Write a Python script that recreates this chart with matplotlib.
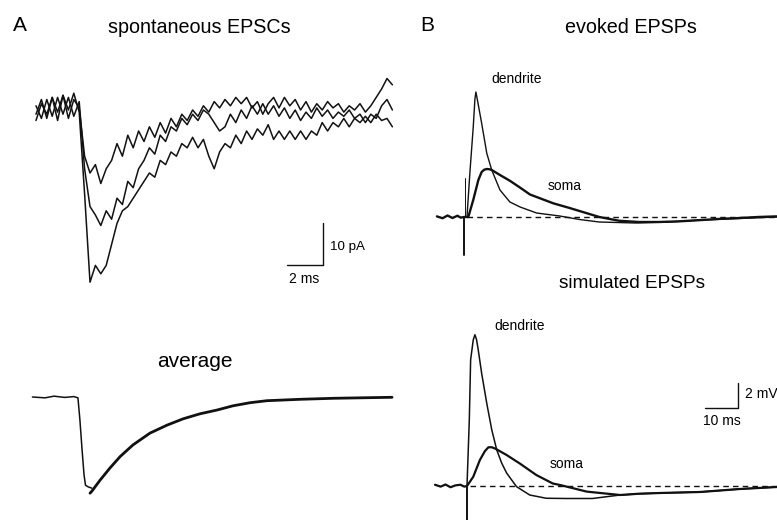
import numpy as np
import matplotlib
matplotlib.use("Agg")
import matplotlib.pyplot as plt

plt.rcParams["font.family"] = ["Liberation Sans", "DejaVu Sans"]
plt.rcParams["lines.solid_joinstyle"] = "round"
plt.rcParams["lines.solid_capstyle"] = "round"

### Data
# A: spontaneous EPSCs (pA), sampled every 0.3 ms
dt_a = 0.3
epsc_small = [-2.5, 1.5, -1, 3, -0.5, 3.5, -2, 2.5, 0.5, -11, -15, -13, -17.5, -14, -12, -8, -11,
              -6, -9, -5, -7.5, -4, -6.5, -3, -5.5, -2, -4, -1, -2.5, 0, -1.5, 1, -0.5, 2, 0.5,
              2.5, 1, 3, 1.5, 3, 0.5, 2, -1, 1.5, 3, 0.5, 3, 1, 2.5, 0, 2, -0.5, 1.5, 0, 2, 0.5,
              1.5, -0.5, 1, 0, 1.5, -0.5, 1, 3, 5, 7.5, 6]
epsc_mid = [1, -2, 2.5, -1.5, 3, -1, 3, -1.5, 2, -14, -23, -25, -27.5, -24, -26, -21, -22.5,
            -17, -18.5, -14, -12, -9, -10.5, -6, -7.5, -4, -5, -2, -3.5, -1, -2.5, 0, -1, -3, -5,
            -4, -1, -3, 0, -2, 1, -1, 1.5, -1, 1, -1.5, 0.5, -2, 0, -2.5, -0.5, -2, 0.5, -1.5,
            0, -2, -0.5, -1.5, 0, -2, -1, -3, -1, -2, 1, 2.5, 0]
epsc_big = [-1, 2.5, -2, 3, -2.5, 3.5, 0, 4, -0.5, -20, -41, -37, -39, -37, -32, -27, -24,
            -23, -21, -19, -17, -15, -16, -12, -13, -10, -11, -8, -9, -6.5, -9, -7, -11, -14,
            -10, -8, -9, -6, -8, -5, -7, -4.5, -6, -3.5, -7, -5, -7, -5, -7, -5, -7, -5, -6, -3,
            -5, -3, -4, -2, -4, -2, -3, -1.5, -3, -1, -2.5, -2, -4]

# A: average EPSC (ms, pA)
avg_rise_t = [-0.2, 0.5, 1.0, 1.6, 2.1, 2.33, 2.44, 2.56, 2.67, 2.75, 2.9, 3.1]
avg_rise_pa = [0, -0.2, 0.2, -0.1, 0.1, -0.2, -5.5, -12.6, -18.6, -21, -21.4, -21.7]
avg_decay_t = [3.0, 3.09, 3.56, 4.11, 4.67, 5.39, 6.33, 7.28, 8.17, 9.11, 10.06, 10.94, 11.89,
               12.83, 14.67, 16.5, 18.39, 19.78]
avg_decay_pa = [-22.9, -22.5, -19.8, -16.9, -14.2, -11.4, -8.6, -6.7, -5.2, -4.0, -3.1, -2.1,
                -1.36, -0.88, -0.55, -0.31, -0.17, -0.07]

# B: evoked EPSPs (ms, mV)
ev_dend_t = [0.9, 1.8, 2.8, 3.3, 3.6, 3.9, 5.35, 6.9, 8.4, 10.9, 13.9, 17, 22, 29, 35, 41, 52,
             62, 72, 87, 94.8]
ev_dend_mv = [0, 3.6, 7.2, 9.4, 10, 9.6, 7.5, 5.1, 3.76, 2.16, 1.2, 0.8, 0.32, 0.08, -0.2,
              -0.4, -0.48, -0.4, -0.24, -0.08, 0]
ev_soma_t = [-8.2, -6.5, -5, -3.5, -2, -1, 0, 1.3, 2.8, 4.35, 5.35, 6.1, 6.9, 7.7, 8.4, 10.9,
             13.9, 17, 20, 27, 32, 38, 41, 47, 53, 59, 65, 71.5, 77.6, 83.6, 89, 94.8]
ev_soma_mv = [0.05, -0.1, 0.12, -0.08, 0.1, -0.05, 0, 0, 1.36, 2.96, 3.6, 3.78, 3.84, 3.82,
              3.76, 3.36, 2.9, 2.35, 1.8, 1.1, 0.72, 0.24, 0, -0.3, -0.4, -0.4, -0.35, -0.25,
              -0.15, -0.08, 0, 0.05]
ev_artifact = (3.1, -3.05)

# B: simulated EPSPs (ms, mV)
sim_dend_t = [0, 0.7, 1.1, 1.9, 2.4, 2.9, 3.4, 4.45, 6, 7.5, 9, 10.5, 12, 15, 19, 24, 30, 38,
              45.5, 52, 58.5, 70.6, 82.7, 93.9]
sim_dend_mv = [0, 5.3, 10.1, 11.7, 12.1, 11.7, 10.9, 9.0, 6.6, 4.5, 2.9, 1.84, 1.04, -0.05,
               -0.72, -0.98, -1.0, -1.0, -0.75, -0.62, -0.56, -0.48, -0.24, -0.08]
sim_soma_t = [-9.7, -8, -6.5, -5, -3.5, -2, -0.8, 0, 1.9, 3.9, 5.45, 6.5, 7.5, 8.5, 12, 16, 21,
              26, 28.2, 36.3, 46.4, 52, 58.5, 70.6, 82.7, 93.9]
sim_soma_mv = [0.1, -0.05, 0.12, -0.1, 0.05, 0.1, -0.05, 0, 0.74, 2.08, 2.8, 3.1, 3.1, 3.0,
               2.48, 1.8, 0.88, 0.2, 0.08, -0.45, -0.72, -0.62, -0.56, -0.48, -0.24, -0.08]
sim_artifact = -3.0

### Layout helpers (pixel boxes of a 777x520 canvas)
W, H = 777, 520
fig = plt.figure(figsize=(W / 100, H / 100), dpi=100)


def make_axes(left, top, right, bottom, x0, sx, y0, sy):
    # x0/y0: pixel of data zero, sx/sy: pixels per data unit
    ax = fig.add_axes([left / W, 1 - bottom / H, (right - left) / W, (bottom - top) / H])
    ax.set_xlim((left - x0) / sx, (right - x0) / sx)
    ax.set_ylim((y0 - bottom) / sy, (y0 - top) / sy)
    ax.axis("off")
    return ax


def label(x, y, s, size, ha="center"):
    fig.text(x / W, 1 - y / H, s, fontsize=size, ha=ha, va="baseline")


k = "#111111"

# A top
axA = make_axes(0, 40, 420, 310, 36, 18, 110, 4.2)
t_a = np.arange(len(epsc_big)) * dt_a
for tr in (epsc_small, epsc_mid, epsc_big):
    axA.plot(t_a, tr, color=k, lw=1.1)
axA.plot([13.94, 15.94, 15.94], [-36.9, -36.9, -26.9], color=k, lw=1.0)

# A bottom
axAvg = make_axes(0, 330, 420, 520, 36, 18, 397, 4.2)
axAvg.plot(avg_rise_t, avg_rise_pa, color=k, lw=1.1)
axAvg.plot(avg_decay_t, avg_decay_pa, color=k, lw=2.0)

# B top
axB1 = make_axes(420, 40, 777, 270, 464, 3.3, 217, 12.5)
axB1.plot([0.9, 94.8], [0, 0], color=k, lw=1.0, ls=(0, (4, 3)))
axB1.plot([0.3, 0.3], [0, ev_artifact[0]], color=k, lw=0.7)
axB1.plot([0, 0], [0, ev_artifact[1]], color=k, lw=1.4)
axB1.plot(ev_dend_t, ev_dend_mv, color=k, lw=1.0)
axB1.plot(ev_soma_t, ev_soma_mv, color=k, lw=1.7)

# B bottom
axB2 = make_axes(420, 270, 777, 520, 467, 3.3, 486, 12.5)
axB2.plot([1.0, 93.9], [0, 0], color=k, lw=1.0, ls=(0, (4, 3)))
axB2.plot([0, 0], [0, sim_artifact], color=k, lw=1.4)
axB2.plot(sim_dend_t, sim_dend_mv, color=k, lw=1.1)
axB2.plot(sim_soma_t, sim_soma_mv, color=k, lw=1.6)
axB2.plot([72.1, 82.1, 82.1], [6.24, 6.24, 8.24], color=k, lw=1.0)

### Text
label(20, 31, "A", 15)
label(427, 31, "B", 15)
label(199, 33, "spontaneous EPSCs", 14.2)
label(631, 33, "evoked EPSPs", 14.2)
label(195, 367, "average", 15)
label(632, 288, "simulated EPSPs", 13.7)
label(517, 83, "dendrite", 10)
label(565, 190, "soma", 10)
label(520, 330, "dendrite", 10)
label(567, 468, "soma", 10)
label(330, 250, "10 pA", 9.6, ha="left")
label(304, 283, "2 ms", 10)
label(745, 398, "2 mV", 10, ha="left")
label(722, 425, "10 ms", 10)

fig.savefig("out.png", dpi=100)
